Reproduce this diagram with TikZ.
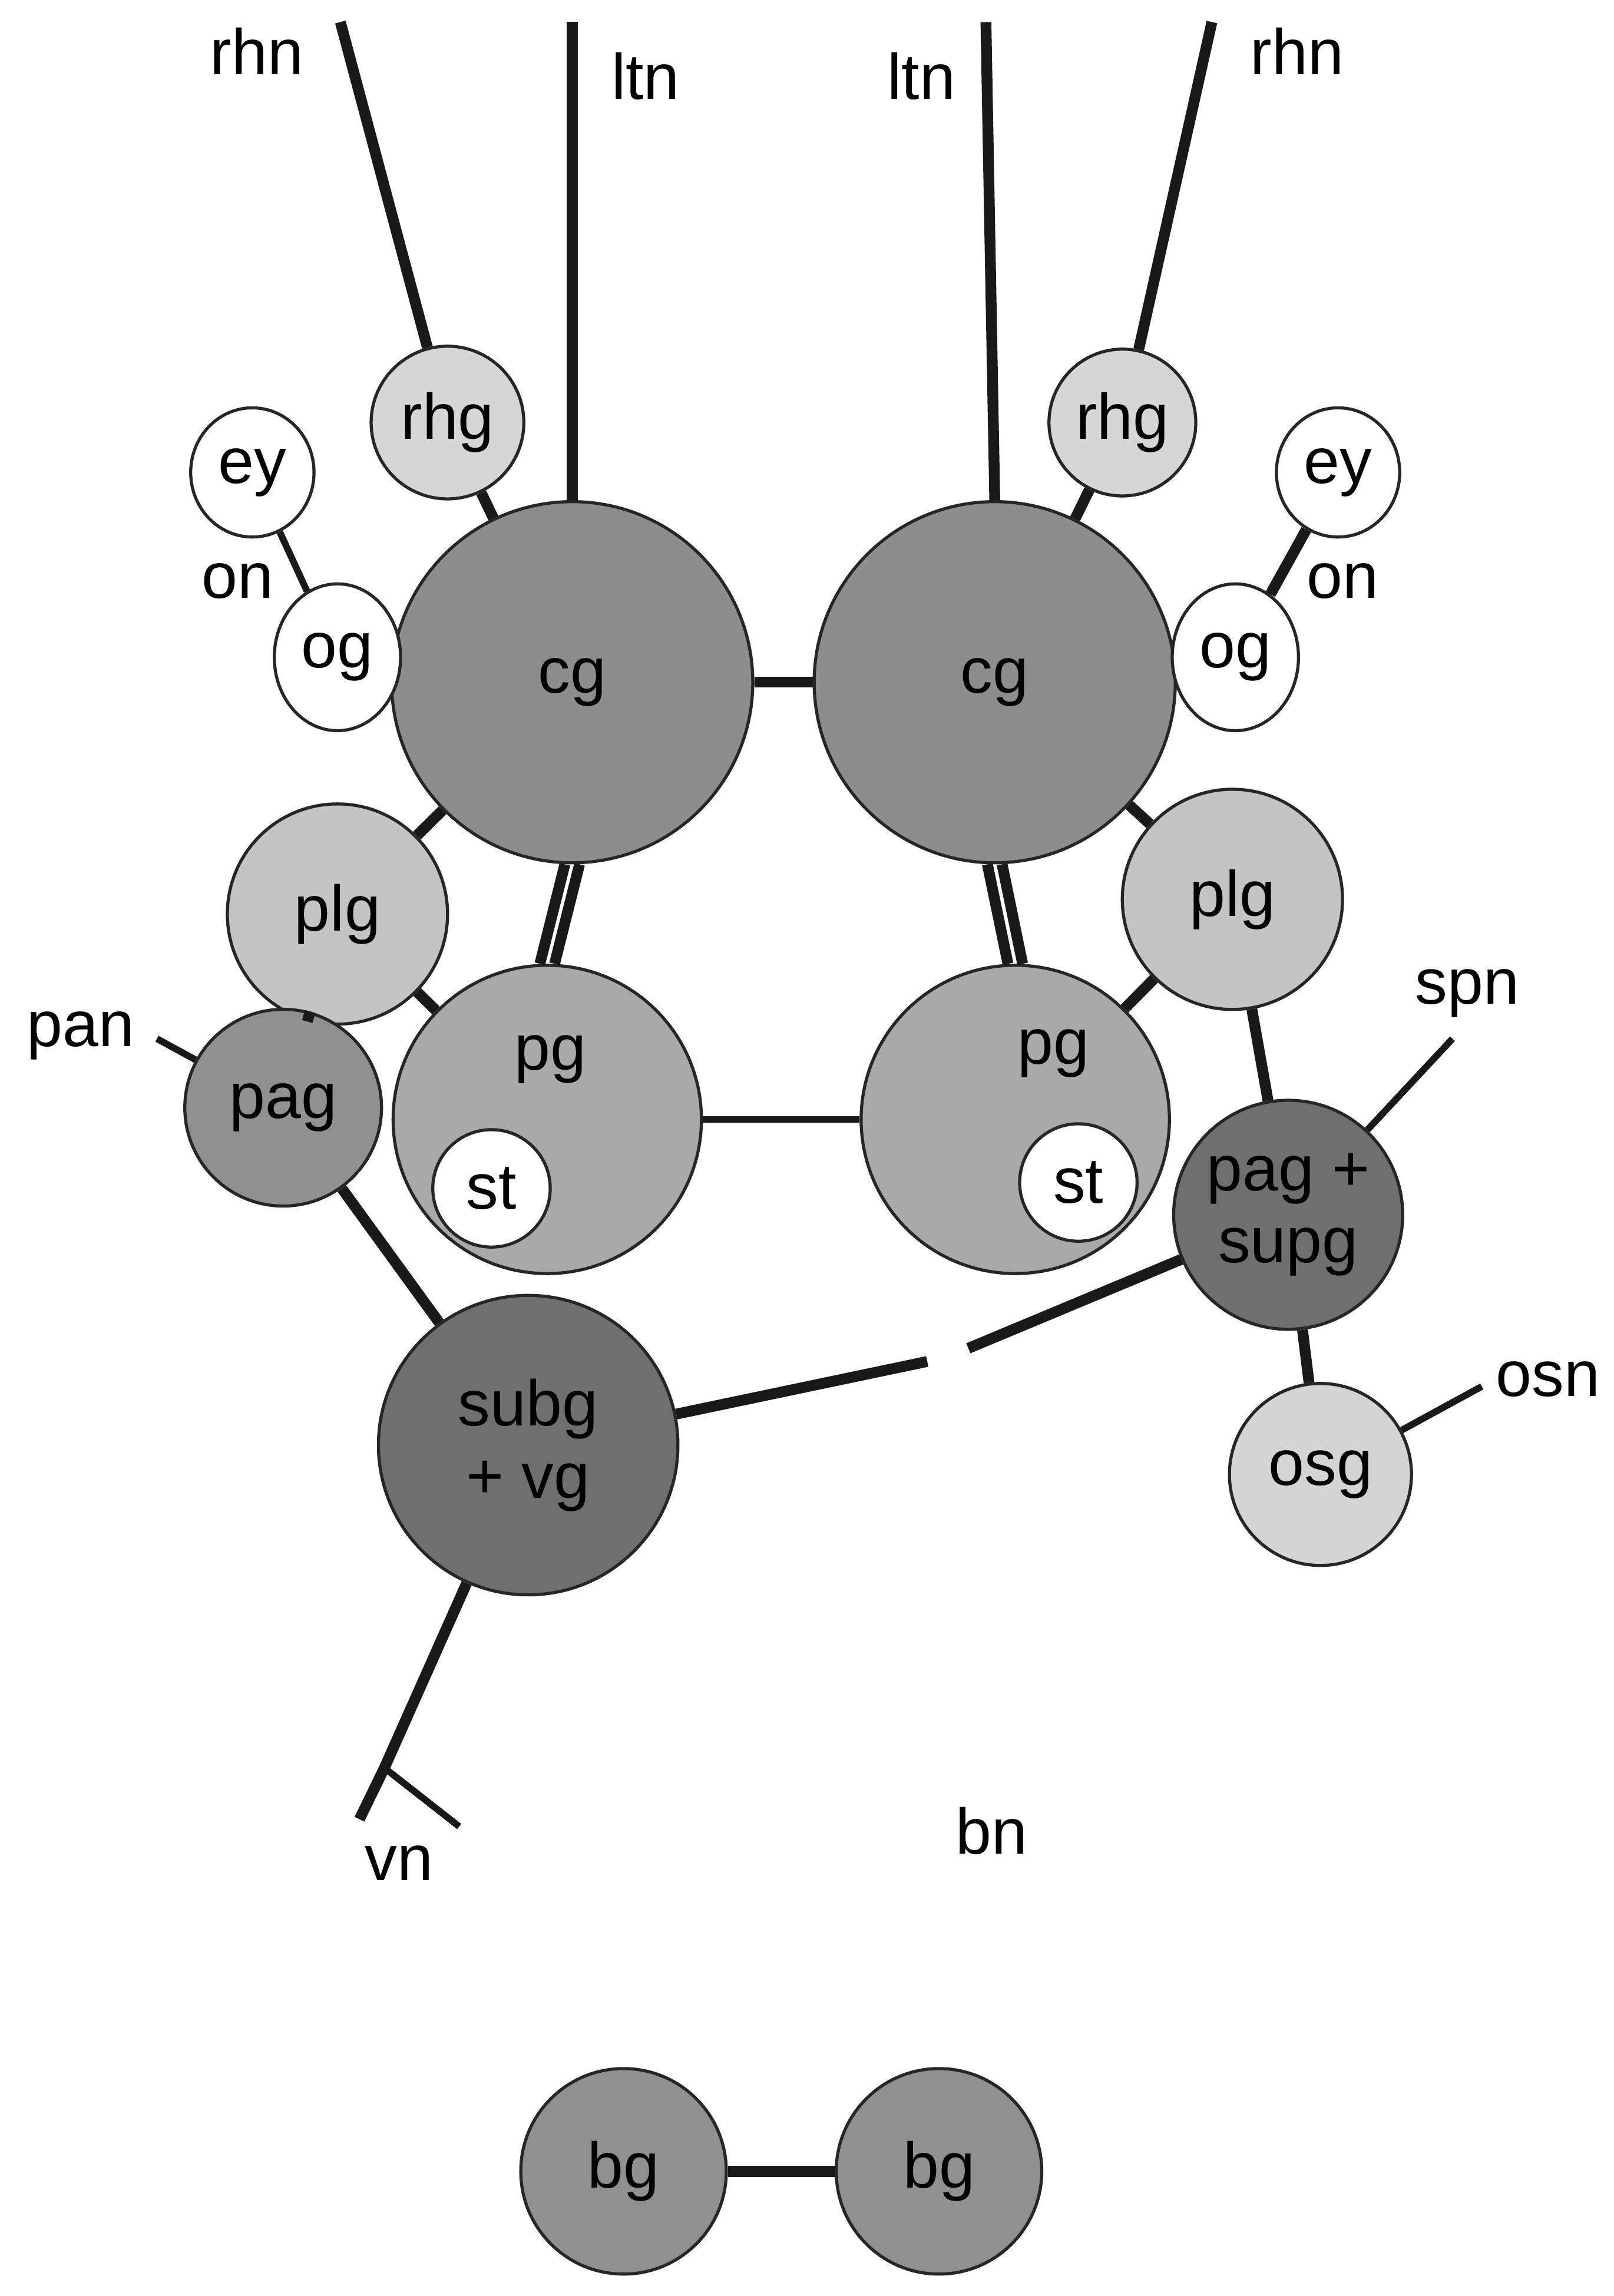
\documentclass[tikz,border=0pt]{standalone}
\usepackage{fontspec}
\setmainfont{Liberation Sans}
\usetikzlibrary{shapes.geometric}
\begin{document}
\begin{tikzpicture}[x=0.01cm,y=-0.01cm,
 g/.style={circle,draw=black!85,line width=0.6pt,inner sep=0pt,font=\fontsize{12.5}{14}\selectfont,align=center},
 el/.style={ellipse,draw=black!85,line width=0.6pt,fill=white,inner sep=0pt,font=\fontsize{12.5}{14}\selectfont},
 lb/.style={font=\fontsize{12.5}{14}\selectfont},
 tk/.style={line width=2.1pt,black!90},
 tn/.style={line width=1.3pt,black!90}]
\useasboundingbox (0,0) rectangle (1100,1565);
% coordinates
\coordinate (rhnL) at (232,15); \coordinate (ltnL) at (390,15);
\coordinate (ltnR) at (672,15); \coordinate (rhnR) at (826,15);
\coordinate (panE) at (107,708); \coordinate (spnE) at (990,708);
\coordinate (osnE) at (1010,945);
\coordinate (vnK) at (262,1205); \coordinate (vnA) at (245,1240); \coordinate (vnB) at (313,1245);
\coordinate (gapA) at (632,928); \coordinate (gapB) at (660,919);
% nodes
\node[g,fill=gray!85!black!45,minimum size=246\pgflinewidth] (dummy) at (-500,-500) {};
\node[g,fill={rgb,255:red,140;green,142;blue,141},minimum size=7cm*0+2.46cm] (cgL) at (390,465) {cg};
\node[g,fill={rgb,255:red,140;green,142;blue,141},minimum size=2.46cm] (cgR) at (678,465) {cg};
\node[g,fill={rgb,255:red,214;green,214;blue,214},minimum size=1.04cm] (rhgL) at (305,288) {rhg};
\node[g,fill={rgb,255:red,214;green,214;blue,214},minimum size=1.0cm] (rhgR) at (765,288) {rhg};
\node[el,minimum width=0.84cm,minimum height=0.88cm] (eyL) at (172,322) {ey};
\node[el,minimum width=0.84cm,minimum height=0.88cm] (eyR) at (912,322) {ey};
\node[el,minimum width=0.86cm,minimum height=1.0cm] (ogL) at (230,448) {og};
\node[el,minimum width=0.86cm,minimum height=1.0cm] (ogR) at (842,448) {og};
\node[g,fill={rgb,255:red,196;green,196;blue,196},minimum size=1.5cm] (plgL) at (230,623) {plg};
\node[g,fill={rgb,255:red,196;green,196;blue,196},minimum size=1.5cm] (plgR) at (840,613) {plg};
\node[g,fill={rgb,255:red,168;green,169;blue,168},minimum size=2.1cm] (pgL) at (373,763) {};
\node[g,fill={rgb,255:red,168;green,169;blue,168},minimum size=2.1cm] (pgR) at (692,763) {};
\node[lb] (pgLt) at (375,722) {pg};
\node[lb] (pgRt) at (718,718) {pg};
\node[g,fill=white,minimum size=0.8cm] (stL) at (335,810) {st};
\node[g,fill=white,minimum size=0.8cm] (stR) at (735,806) {st};
\node[g,fill={rgb,255:red,143;green,144;blue,143},minimum size=1.34cm] (pagL) at (193,755) {pag};
\node[g,fill={rgb,255:red,110;green,112;blue,111},minimum size=1.56cm] (pags) at (878,828) {pag +\\supg};
\node[g,fill={rgb,255:red,212;green,212;blue,212},minimum size=1.24cm] (osg) at (900,1005) {osg};
\node[g,fill={rgb,255:red,110;green,112;blue,111},minimum size=2.04cm] (subg) at (360,985) {subg\\+ vg};
\node[g,fill={rgb,255:red,143;green,145;blue,144},minimum size=1.4cm] (bgL) at (425,1480) {bg};
\node[g,fill={rgb,255:red,143;green,145;blue,144},minimum size=1.4cm] (bgR) at (640,1480) {bg};
% labels
\node[lb] (l1) at (175,35) {rhn};
\node[lb] (l2) at (440,52) {ltn};
\node[lb] (l3) at (628,52) {ltn};
\node[lb] (l4) at (884,35) {rhn};
\node[lb] (l5) at (162,396) {on};
\node[lb] (l6) at (915,396) {on};
\node[lb] (l7) at (55,706) {pan};
\node[lb] (l8) at (1000,677) {spn};
\node[lb] (l9) at (1055,940) {osn};
\node[lb] (l10) at (676,1248) {bn};
\node[lb] (l11) at (272,1270) {vn};
% connectors (behind)
\begin{scope}[on background layer/.style={}]
\end{scope}
\begin{pgfinterruptboundingbox}\end{pgfinterruptboundingbox}
\begin{scope}
\draw[tk] (rhnL) -- (rhgL);
\draw[tk] (ltnL) -- (cgL.north);
\draw[tk] (ltnR) -- (cgR.north);
\draw[tk] (rhnR) -- (rhgR);
\draw[tk] (rhgL) -- (cgL);
\draw[tk] (rhgR) -- (cgR);
\draw[tn] (eyL) -- (ogL);
\draw[tk] (eyR) -- (ogR);
\draw[tk] (cgL) -- (cgR);
\draw[tk] (cgL) -- (plgL);
\draw[tk] (cgR) -- (plgR);
\draw[tk] ([xshift=-0.05cm]cgL.south) -- ([xshift=-0.05cm]pgL.north);
\draw[tk] ([xshift=0.05cm]cgL.south) -- ([xshift=0.05cm]pgL.north);
\draw[tk] ([xshift=-0.05cm]cgR.south) -- ([xshift=-0.05cm]pgR.north);
\draw[tk] ([xshift=0.05cm]cgR.south) -- ([xshift=0.05cm]pgR.north);
\draw[tk] (plgL) -- (pgL);
\draw[tk] (plgR) -- (pgR);
\draw[tk] (plgL) -- (pagL);
\draw[tk] (plgR) -- (pags);
\draw[tn] (pgL) -- (pgR);
\draw[tn] (panE) -- (pagL);
\draw[tk] (pagL) -- (subg);
\draw[tk] (subg) -- (gapA);
\draw[tk] (gapB) -- (pags);
\draw[tn] (spnE) -- (pags);
\draw[tk] (pags) -- (osg);
\draw[tn] (osnE) -- (osg);
\draw[tk] (subg) -- (vnK) -- (vnA);
\draw[tn] (vnK) -- (vnB);
\draw[tk] (bgL) -- (bgR);
\end{scope}
% redraw nodes on top of connectors
\foreach \n in {cgL,cgR,rhgL,rhgR,eyL,eyR,ogL,ogR,plgL,plgR,pgL,pgR,pagL,pags,osg,subg,bgL,bgR}{}
\end{tikzpicture}
\end{document}
